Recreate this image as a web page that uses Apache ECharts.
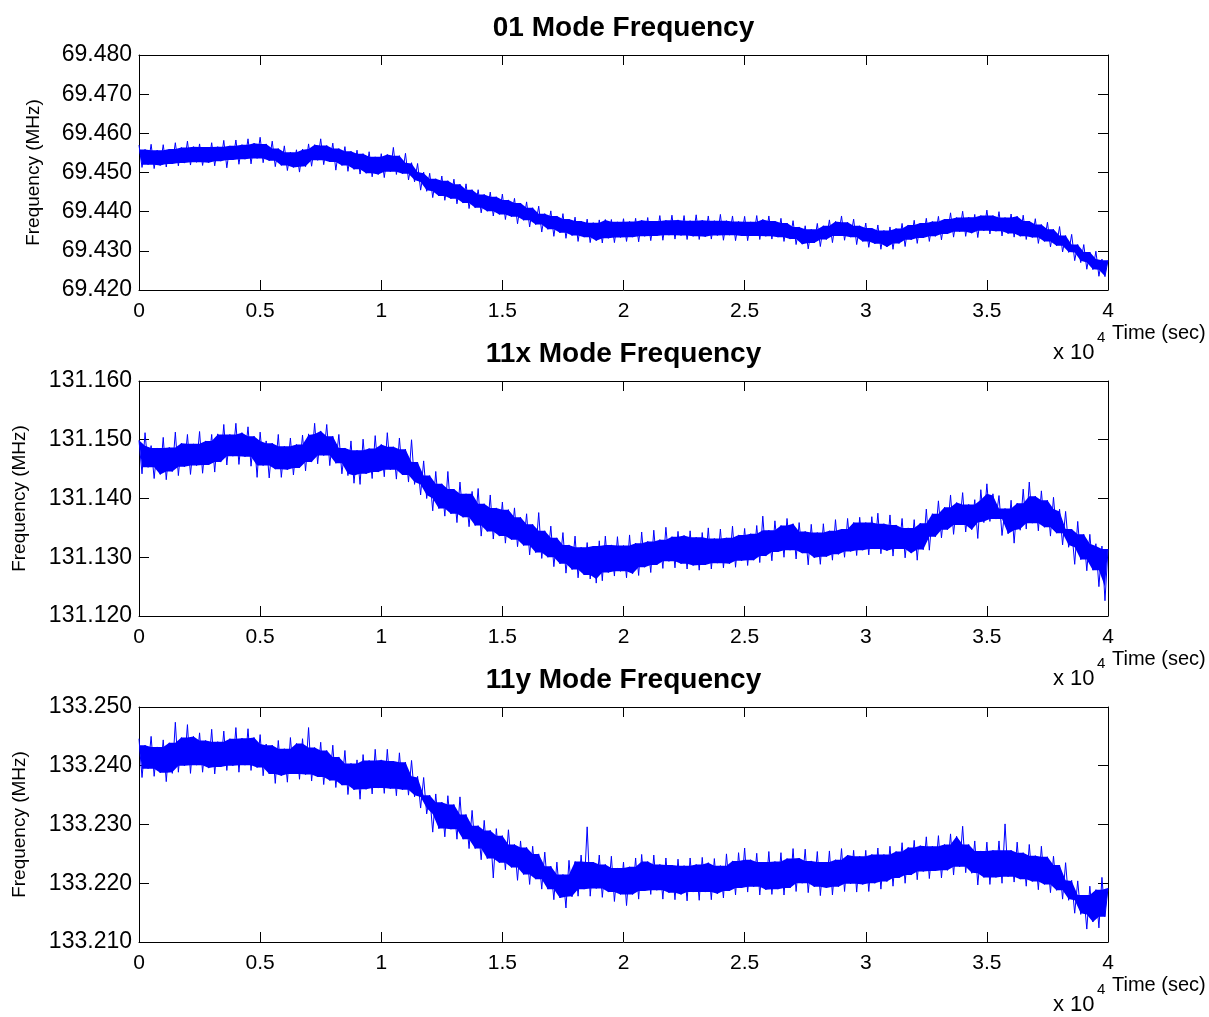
<!DOCTYPE html>
<html>
<head>
<meta charset="utf-8">
<title>Mode Frequency vs Time</title>
<script src="https://cdn.jsdelivr.net/npm/echarts@6/dist/echarts.min.js"></script>
<style>
  html, body { margin: 0; padding: 0; background: #ffffff; }
  #chart { width: 1209px; height: 1017px; }
</style>
</head>
<body>
<div id="chart"></div>
<script>
// Each frequency record is stored as a per-bin envelope: the high value at the
// start of every 250 s bin and the low value at its midpoint. The trace is
// drawn by visiting high and low values in time order.
const BIN_SEC = 250;

const panelTitles = ['01 Mode Frequency', '11x Mode Frequency', '11y Mode Frequency'];
const xTickLabels = ['0', '0.5', '1', '1.5', '2', '2.5', '3', '3.5', '4'];
const xTickStep = 5000;
const timeMax = 40000;

// 01 mode (MHz)
const mode01Hi = [
  69.4570, 69.4559, 69.4572, 69.4557, 69.4571, 69.4560, 69.4576, 69.4564, 69.4580, 69.4566,
  69.4573, 69.4565, 69.4576, 69.4566, 69.4582, 69.4568, 69.4583, 69.4571, 69.4586, 69.4575,
  69.4590, 69.4573, 69.4580, 69.4561, 69.4568, 69.4552, 69.4558, 69.4560, 69.4573, 69.4571,
  69.4586, 69.4569, 69.4575, 69.4561, 69.4566, 69.4554, 69.4557, 69.4548, 69.4553, 69.4540,
  69.4548, 69.4546, 69.4564, 69.4543, 69.4549, 69.4525, 69.4523, 69.4501, 69.4498, 69.4484,
  69.4491, 69.4479, 69.4483, 69.4470, 69.4471, 69.4456, 69.4456, 69.4444, 69.4450, 69.4438,
  69.4445, 69.4430, 69.4434, 69.4422, 69.4425, 69.4410, 69.4414, 69.4395, 69.4402, 69.4389,
  69.4395, 69.4381, 69.4386, 69.4376, 69.4381, 69.4372, 69.4379, 69.4380, 69.4380, 69.4374,
  69.4382, 69.4375, 69.4383, 69.4378, 69.4385, 69.4376, 69.4390, 69.4378, 69.4391, 69.4379,
  69.4390, 69.4377, 69.4392, 69.4378, 69.4389, 69.4377, 69.4393, 69.4377, 69.4389, 69.4375,
  69.4388, 69.4374, 69.4390, 69.4380, 69.4389, 69.4376, 69.4383, 69.4371, 69.4377, 69.4361,
  69.4364, 69.4355, 69.4370, 69.4364, 69.4379, 69.4375, 69.4389, 69.4373, 69.4381, 69.4364,
  69.4371, 69.4358, 69.4366, 69.4352, 69.4361, 69.4357, 69.4370, 69.4366, 69.4378, 69.4371,
  69.4383, 69.4375, 69.4388, 69.4381, 69.4397, 69.4385, 69.4401, 69.4386, 69.4393, 69.4390,
  69.4404, 69.4390, 69.4400, 69.4385, 69.4394, 69.4388, 69.4391, 69.4376, 69.4382, 69.4367,
  69.4373, 69.4355, 69.4362, 69.4339, 69.4342, 69.4316, 69.4316, 69.4297, 69.4299, 69.4279, 69.4276
];
const mode01Lo = [
  69.4513, 69.4520, 69.4510, 69.4518, 69.4514, 69.4522, 69.4517, 69.4524, 69.4519, 69.4526,
  69.4518, 69.4525, 69.4517, 69.4529, 69.4512, 69.4532, 69.4521, 69.4534, 69.4522, 69.4536,
  69.4525, 69.4530, 69.4515, 69.4518, 69.4505, 69.4513, 69.4501, 69.4515, 69.4516, 69.4531,
  69.4520, 69.4527, 69.4506, 69.4518, 69.4503, 69.4508, 69.4496, 69.4498, 69.4489, 69.4495,
  69.4487, 69.4502, 69.4495, 69.4497, 69.4481, 69.4476, 69.4455, 69.4452, 69.4436, 69.4440,
  69.4429, 69.4433, 69.4420, 69.4422, 69.4408, 69.4410, 69.4397, 69.4401, 69.4389, 69.4393,
  69.4380, 69.4387, 69.4369, 69.4378, 69.4361, 69.4367, 69.4348, 69.4355, 69.4337, 69.4346,
  69.4332, 69.4339, 69.4324, 69.4335, 69.4321, 69.4326, 69.4320, 69.4332, 69.4321, 69.4334,
  69.4324, 69.4335, 69.4323, 69.4337, 69.4326, 69.4338, 69.4327, 69.4340, 69.4330, 69.4339,
  69.4329, 69.4337, 69.4329, 69.4336, 69.4330, 69.4339, 69.4327, 69.4340, 69.4326, 69.4338,
  69.4326, 69.4338, 69.4329, 69.4337, 69.4330, 69.4335, 69.4324, 69.4330, 69.4316, 69.4317,
  69.4305, 69.4320, 69.4311, 69.4329, 69.4321, 69.4338, 69.4327, 69.4335, 69.4316, 69.4324,
  69.4309, 69.4318, 69.4304, 69.4310, 69.4304, 69.4319, 69.4311, 69.4328, 69.4319, 69.4333,
  69.4324, 69.4337, 69.4328, 69.4343, 69.4335, 69.4349, 69.4337, 69.4345, 69.4334, 69.4351,
  69.4343, 69.4350, 69.4338, 69.4344, 69.4335, 69.4337, 69.4329, 69.4334, 69.4319, 69.4324,
  69.4310, 69.4313, 69.4297, 69.4296, 69.4275, 69.4270, 69.4253, 69.4252, 69.4235, 69.4234
];

// 11x mode (MHz)
const mode11xHi = [
  131.1499, 131.1512, 131.1490, 131.1486, 131.1504, 131.1487, 131.1513, 131.1494, 131.1509, 131.1493,
  131.1514, 131.1498, 131.1509, 131.1510, 131.1526, 131.1509, 131.1528, 131.1512, 131.1522, 131.1506,
  131.1513, 131.1498, 131.1494, 131.1509, 131.1489, 131.1503, 131.1492, 131.1508, 131.1510, 131.1528,
  131.1515, 131.1526, 131.1506, 131.1509, 131.1486, 131.1498, 131.1482, 131.1501, 131.1485, 131.1507,
  131.1492, 131.1512, 131.1488, 131.1503, 131.1484, 131.1500, 131.1462, 131.1464, 131.1439, 131.1446,
  131.1425, 131.1446, 131.1416, 131.1428, 131.1408, 131.1412, 131.1417, 131.1391, 131.1406, 131.1384,
  131.1394, 131.1381, 131.1384, 131.1368, 131.1374, 131.1356, 131.1376, 131.1345, 131.1353, 131.1333,
  131.1342, 131.1321, 131.1336, 131.1317, 131.1325, 131.1319, 131.1328, 131.1336, 131.1321, 131.1335,
  131.1320, 131.1338, 131.1324, 131.1343, 131.1327, 131.1346, 131.1330, 131.1351, 131.1335, 131.1344,
  131.1337, 131.1345, 131.1334, 131.1342, 131.1350, 131.1332, 131.1348, 131.1333, 131.1353, 131.1338,
  131.1349, 131.1340, 131.1354, 131.1370, 131.1346, 131.1362, 131.1354, 131.1366, 131.1357, 131.1359,
  131.1344, 131.1356, 131.1342, 131.1357, 131.1345, 131.1364, 131.1348, 131.1366, 131.1359, 131.1368,
  131.1359, 131.1369, 131.1375, 131.1357, 131.1372, 131.1355, 131.1366, 131.1350, 131.1364, 131.1358,
  131.1382, 131.1374, 131.1396, 131.1385, 131.1406, 131.1393, 131.1410, 131.1390, 131.1398, 131.1415,
  131.1425, 131.1408, 131.1405, 131.1383, 131.1397, 131.1392, 131.1416, 131.1428, 131.1404, 131.1413,
  131.1397, 131.1402, 131.1382, 131.1378, 131.1348, 131.1361, 131.1339, 131.1339, 131.1323, 131.1319, 131.1314
];
const mode11xLo = [
  131.1442, 131.1453, 131.1434, 131.1441, 131.1432, 131.1446, 131.1439, 131.1454, 131.1441, 131.1456,
  131.1443, 131.1457, 131.1445, 131.1462, 131.1457, 131.1472, 131.1458, 131.1471, 131.1455, 131.1436,
  131.1456, 131.1435, 131.1450, 131.1436, 131.1449, 131.1440, 131.1452, 131.1447, 131.1462, 131.1459,
  131.1473, 131.1456, 131.1460, 131.1442, 131.1439, 131.1426, 131.1424, 131.1442, 131.1434, 131.1445,
  131.1437, 131.1449, 131.1433, 131.1440, 131.1428, 131.1424, 131.1406, 131.1400, 131.1379, 131.1383,
  131.1370, 131.1374, 131.1359, 131.1368, 131.1352, 131.1354, 131.1336, 131.1344, 131.1331, 131.1336,
  131.1324, 131.1330, 131.1318, 131.1320, 131.1304, 131.1308, 131.1298, 131.1300, 131.1284, 131.1289,
  131.1273, 131.1279, 131.1265, 131.1270, 131.1263, 131.1256, 131.1260, 131.1274, 131.1268, 131.1276,
  131.1265, 131.1272, 131.1269, 131.1283, 131.1274, 131.1287, 131.1281, 131.1293, 131.1282, 131.1289,
  131.1280, 131.1286, 131.1278, 131.1287, 131.1280, 131.1290, 131.1282, 131.1289, 131.1283, 131.1294,
  131.1286, 131.1295, 131.1291, 131.1302, 131.1294, 131.1309, 131.1300, 131.1312, 131.1297, 131.1307,
  131.1287, 131.1299, 131.1288, 131.1301, 131.1295, 131.1305, 131.1300, 131.1310, 131.1303, 131.1312,
  131.1304, 131.1314, 131.1306, 131.1311, 131.1302, 131.1314, 131.1299, 131.1307, 131.1295, 131.1313,
  131.1312, 131.1335, 131.1333, 131.1347, 131.1339, 131.1355, 131.1343, 131.1347, 131.1332, 131.1359,
  131.1361, 131.1365, 131.1337, 131.1340, 131.1324, 131.1346, 131.1348, 131.1358, 131.1345, 131.1351,
  131.1336, 131.1341, 131.1321, 131.1317, 131.1288, 131.1296, 131.1277, 131.1278, 131.1250, 131.1226
];

// 11y mode (MHz)
const mode11yHi = [
  133.2446, 133.2435, 133.2450, 133.2432, 133.2444, 133.2439, 133.2474, 133.2448, 133.2470, 133.2450,
  133.2456, 133.2443, 133.2462, 133.2441, 133.2459, 133.2446, 133.2465, 133.2447, 133.2463, 133.2448,
  133.2453, 133.2437, 133.2435, 133.2443, 133.2429, 133.2448, 133.2438, 133.2446, 133.2465, 133.2431,
  133.2440, 133.2426, 133.2435, 133.2415, 133.2426, 133.2404, 133.2410, 133.2419, 133.2409, 133.2428,
  133.2410, 133.2428, 133.2408, 133.2422, 133.2406, 133.2409, 133.2382, 133.2380, 133.2350, 133.2352,
  133.2338, 133.2349, 133.2334, 133.2347, 133.2317, 133.2324, 133.2298, 133.2307, 133.2290, 133.2293,
  133.2281, 133.2291, 133.2266, 133.2272, 133.2261, 133.2263, 133.2250, 133.2253, 133.2229, 133.2236,
  133.2215, 133.2239, 133.2237, 133.2248, 133.2296, 133.2236, 133.2248, 133.2232, 133.2246, 133.2226,
  133.2236, 133.2228, 133.2243, 133.2249, 133.2237, 133.2248, 133.2232, 133.2243, 133.2231, 133.2241,
  133.2230, 133.2243, 133.2232, 133.2244, 133.2235, 133.2242, 133.2230, 133.2250, 133.2238, 133.2252,
  133.2260, 133.2240, 133.2251, 133.2236, 133.2254, 133.2237, 133.2252, 133.2242, 133.2259, 133.2243,
  133.2258, 133.2238, 133.2254, 133.2236, 133.2255, 133.2240, 133.2259, 133.2248, 133.2256, 133.2246,
  133.2256, 133.2249, 133.2260, 133.2249, 133.2263, 133.2254, 133.2269, 133.2261, 133.2273, 133.2264,
  133.2279, 133.2263, 133.2281, 133.2266, 133.2284, 133.2280, 133.2297, 133.2266, 133.2272, 133.2255,
  133.2270, 133.2256, 133.2272, 133.2301, 133.2256, 133.2270, 133.2252, 133.2266, 133.2247, 133.2263,
  133.2245, 133.2246, 133.2231, 133.2235, 133.2205, 133.2204, 133.2180, 133.2195, 133.2189, 133.2210, 133.2192
];
const mode11yLo = [
  133.2380, 133.2395, 133.2382, 133.2388, 133.2373, 133.2387, 133.2389, 133.2400, 133.2387, 133.2401,
  133.2389, 133.2396, 133.2386, 133.2398, 133.2392, 133.2400, 133.2389, 133.2401, 133.2392, 133.2397,
  133.2383, 133.2386, 133.2370, 133.2383, 133.2372, 133.2386, 133.2377, 133.2385, 133.2374, 133.2381,
  133.2368, 133.2375, 133.2363, 133.2367, 133.2351, 133.2359, 133.2343, 133.2360, 133.2352, 133.2362,
  133.2353, 133.2361, 133.2349, 133.2359, 133.2350, 133.2347, 133.2328, 133.2318, 133.2287, 133.2293,
  133.2279, 133.2292, 133.2275, 133.2275, 133.2259, 133.2259, 133.2240, 133.2242, 133.2209, 133.2235,
  133.2223, 133.2227, 133.2205, 133.2215, 133.2198, 133.2207, 133.2190, 133.2190, 133.2172, 133.2175,
  133.2158, 133.2177, 133.2178, 133.2190, 133.2178, 133.2191, 133.2176, 133.2185, 133.2169, 133.2181,
  133.2162, 133.2181, 133.2173, 133.2187, 133.2181, 133.2188, 133.2173, 133.2184, 133.2172, 133.2181,
  133.2170, 133.2185, 133.2171, 133.2185, 133.2172, 133.2182, 133.2175, 133.2187, 133.2180, 133.2192,
  133.2185, 133.2194, 133.2180, 133.2189, 133.2181, 133.2190, 133.2180, 133.2192, 133.2186, 133.2200,
  133.2184, 133.2194, 133.2179, 133.2192, 133.2180, 133.2194, 133.2186, 133.2199, 133.2185, 133.2198,
  133.2186, 133.2200, 133.2190, 133.2203, 133.2195, 133.2209, 133.2200, 133.2214, 133.2206, 133.2220,
  133.2208, 133.2221, 133.2209, 133.2222, 133.2214, 133.2228, 133.2218, 133.2217, 133.2197, 133.2210,
  133.2198, 133.2210, 133.2200, 133.2211, 133.2202, 133.2207, 133.2195, 133.2203, 133.2189, 133.2198,
  133.2184, 133.2188, 133.2173, 133.2171, 133.2149, 133.2147, 133.2122, 133.2134, 133.2124, 133.2143
];

// Axis ranges per panel (MHz)
const yRanges = [[69.42, 69.48], [131.12, 131.16], [133.21, 133.25]];
const yStep = 0.01;

// ---- layout ----
const GRID_LEFT = 139;
const GRID_WIDTH = 969;
const GRID_HEIGHT = 235;
const GRID_TOPS = [55, 381, 707];
const NAME_GAPS = [96, 110, 110];
const FONT = '"Liberation Sans", Arial, Helvetica, sans-serif';
const BLUE = '#0000ff';

// Trace: high/low envelope values in time order.
function traceFrom(hi, lo) {
  const pts = [];
  for (let k = 0; k < hi.length; k++) {
    pts.push([k * BIN_SEC, hi[k]]);
    if (k < lo.length) pts.push([k * BIN_SEC + BIN_SEC / 2, lo[k]]);
  }
  return pts;
}

// Dense core of the trace: the part of the band that every neighbouring
// sweep covers (lowest nearby high, highest nearby low).
function coreFrom(hi, lo) {
  const top = [], bottom = [];
  for (let k = 0; k < hi.length; k++) {
    const a = hi[Math.max(0, k - 1)], c = hi[Math.min(hi.length - 1, k + 1)];
    top.push([k * BIN_SEC, Math.min(a, hi[k], c)]);
  }
  for (let k = lo.length - 1; k >= 0; k--) {
    const a = lo[Math.max(0, k - 1)], c = lo[Math.min(lo.length - 1, k + 1)];
    bottom.push([k * BIN_SEC + BIN_SEC / 2, Math.max(a, lo[k], c)]);
  }
  return top.concat(bottom);
}

const records = [
  [mode01Hi, mode01Lo],
  [mode11xHi, mode11xLo],
  [mode11yHi, mode11yLo]
];

const frameLine = { show: true, onZero: false, lineStyle: { color: '#000', width: 1 } };
const innerTick = { show: true, inside: true, length: 10, lineStyle: { color: '#000', width: 1 } };

const grid = [], xAxis = [], yAxis = [], series = [], title = [], graphic = [];

GRID_TOPS.forEach((top, i) => {
  const [hi, lo] = records[i];

  grid.push({ left: GRID_LEFT, top: top, width: GRID_WIDTH, height: GRID_HEIGHT,
              show: false, containLabel: false, outerBoundsMode: 'none' });

  const xBase = { type: 'value', gridIndex: i, min: 0, max: timeMax, interval: xTickStep,
                  axisLine: frameLine, axisTick: innerTick, splitLine: { show: false } };
  xAxis.push(Object.assign({}, xBase, {
    position: 'bottom',
    axisLabel: { show: true, color: '#000', fontFamily: FONT, fontSize: 21, margin: 11,
                 showMinLabel: true, showMaxLabel: true, hideOverlap: false,
                 formatter: v => xTickLabels[Math.round(v / xTickStep)] }
  }));
  xAxis.push(Object.assign({}, xBase, { position: 'top', axisLabel: { show: false } }));

  const [yMin, yMax] = yRanges[i];
  const yBase = { type: 'value', gridIndex: i, min: yMin, max: yMax, interval: yStep, scale: true,
                  axisLine: frameLine, axisTick: innerTick, splitLine: { show: false } };
  yAxis.push(Object.assign({}, yBase, {
    position: 'left',
    name: 'Frequency (MHz)', nameLocation: 'middle', nameGap: NAME_GAPS[i],
    nameTextStyle: { color: '#000', fontFamily: FONT, fontSize: 19 },
    axisLabel: { show: true, color: '#000', fontFamily: FONT, fontSize: 23, margin: 7,
                 padding: [4, 0, 0, 0],
                 showMinLabel: true, showMaxLabel: true, hideOverlap: false,
                 formatter: v => v.toFixed(3) }
  }));
  yAxis.push(Object.assign({}, yBase, { position: 'right', axisLabel: { show: false } }));

  const core = coreFrom(hi, lo);
  series.push({
    type: 'custom', coordinateSystem: 'cartesian2d', xAxisIndex: 2 * i, yAxisIndex: 2 * i,
    data: [[0, yMin]], silent: true, animation: false, clip: true, z: 2,
    renderItem: (params, api) => ({
      type: 'polygon',
      shape: { points: core.map(p => api.coord(p)) },
      style: { fill: BLUE, stroke: null }
    })
  });
  series.push({
    type: 'line', xAxisIndex: 2 * i, yAxisIndex: 2 * i,
    data: traceFrom(hi, lo), showSymbol: false, symbol: 'none',
    lineStyle: { color: BLUE, width: 1 }, itemStyle: { color: BLUE },
    silent: true, animation: false, clip: true, z: 3
  });

  title.push({
    text: panelTitles[i], left: GRID_LEFT + GRID_WIDTH / 2, top: top - 41, textAlign: 'center',
    padding: 0,
    textStyle: { color: '#000', fontFamily: FONT, fontSize: 28, fontWeight: 'bold', lineHeight: 28 }
  });

  const bottom = top + GRID_HEIGHT;
  graphic.push({ type: 'text', x: 1112, y: bottom + 43, silent: true,
    style: { text: 'Time (sec)', font: '20px ' + FONT, fill: '#000', align: 'left', verticalAlign: 'middle' } });
  graphic.push({ type: 'text', x: 1053, y: bottom + 63, silent: true,
    style: { text: 'x 10', font: '22px ' + FONT, fill: '#000', align: 'left', verticalAlign: 'middle' } });
  graphic.push({ type: 'text', x: 1097, y: bottom + 48, silent: true,
    style: { text: '4', font: '15px ' + FONT, fill: '#000', align: 'left', verticalAlign: 'middle' } });
});

const chart = echarts.init(document.getElementById('chart'), null, { renderer: 'canvas' });
chart.setOption({
  backgroundColor: '#ffffff',
  animation: false,
  title: title,
  grid: grid,
  xAxis: xAxis,
  yAxis: yAxis,
  series: series,
  graphic: graphic
});
</script>
</body>
</html>
